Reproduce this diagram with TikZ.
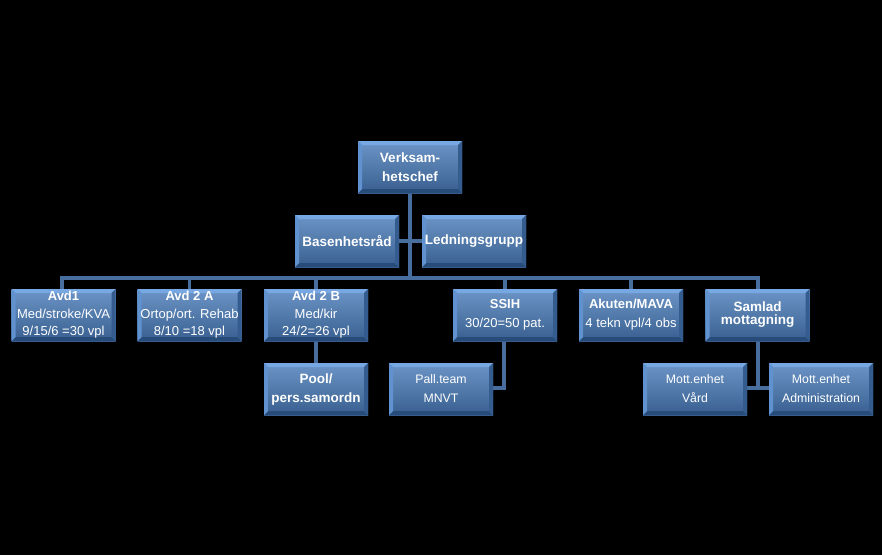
\documentclass[tikz,border=0pt]{standalone}
\usepackage{fontspec}
\setmainfont{Liberation Sans}
\usetikzlibrary{backgrounds}
\definecolor{boxmid}{RGB}{72,122,184}
\definecolor{boxtop}{RGB}{120,168,228}
\definecolor{boxbot}{RGB}{40,76,122}
\definecolor{boxleft}{RGB}{96,146,208}
\definecolor{boxright}{RGB}{52,92,142}
\definecolor{lincol}{RGB}{72,110,158}
\tikzset{
  orgbox/.style={minimum width=104pt, minimum height=52pt, inner sep=1pt,
    text=white, align=center, fill=boxmid,
    path picture={
      \path (path picture bounding box.north west) coordinate (pNW)
            (path picture bounding box.north east) coordinate (pNE)
            (path picture bounding box.south west) coordinate (pSW)
            (path picture bounding box.south east) coordinate (pSE);
      \fill[top color=boxmid!80!white, bottom color=boxmid!78!black] (pNW) rectangle (pSE);
      \fill[boxtop] (pNW) -- (pNE) -- ([shift={(-4pt,-4pt)}]pNE) -- ([shift={(4pt,-4pt)}]pNW) -- cycle;
      \fill[boxbot] (pSW) -- (pSE) -- ([shift={(-4pt,4pt)}]pSE) -- ([shift={(4pt,4pt)}]pSW) -- cycle;
      \fill[boxleft] (pNW) -- ([shift={(4pt,-4pt)}]pNW) -- ([shift={(4pt,4pt)}]pSW) -- (pSW) -- cycle;
      \fill[boxright] (pNE) -- ([shift={(-4pt,-4pt)}]pNE) -- ([shift={(-4pt,4pt)}]pSE) -- (pSE) -- cycle;
    }},
  titlefont/.style={font=\fontsize{13.5}{19}\selectfont\bfseries},
  bodyfont/.style={font=\fontsize{13}{17.5}\selectfont},
  smallfont/.style={font=\fontsize{12.3}{19}\selectfont},
  conn/.style={draw=lincol, line width=3.5pt}
}
\begin{document}
\begin{tikzpicture}[x=1pt,y=-1pt]
\begin{pgfonlayer}{background}
\fill[black] (0,0) rectangle (882,555);
\end{pgfonlayer}
\useasboundingbox (0,0) rectangle (882,555);

\coordinate (busL) at (62,278);
\coordinate (busR) at (758,278);

\node[orgbox, titlefont] (vc) at (410,167) {Verksam-\\hetschef};
\node[orgbox, titlefont] (bas) at (347,241) {Basenhetsråd};
\node[orgbox, titlefont] (led) at (474,241) {Ledningsgrupp};

\node[orgbox, bodyfont] (avd1) at (63.5,315) {\textbf{Avd1}\\Med/stroke/KVA\\9/15/6 =30 vpl};
\node[orgbox, bodyfont] (avd2a) at (189.5,315) {\textbf{Avd 2 A}\\Ortop/ort. Rehab\\8/10 =18 vpl};
\node[orgbox, bodyfont] (avd2b) at (316,315) {\textbf{Avd 2 B}\\Med/kir\\24/2=26 vpl};
\node[orgbox, bodyfont, font=\fontsize{13}{19}\selectfont] (ssih) at (505,315) {\textbf{SSIH}\\30/20=50 pat.};
\node[orgbox, bodyfont, font=\fontsize{13}{19}\selectfont] (akut) at (631,315) {\textbf{Akuten/MAVA}\\4 tekn vpl/4 obs};
\node[orgbox, font=\fontsize{13.5}{14.5}\selectfont\bfseries] (saml) at (757.5,315)
  {\raisebox{3pt}{\begin{tabular}{@{}c@{}}Samlad\\[-1pt]mottagning\end{tabular}}};

\node[orgbox, titlefont] (pool) at (316,389) {Pool/\\pers.samordn};
\node[orgbox, smallfont] (pall) at (441,389) {Pall.team\\MNVT};
\node[orgbox, smallfont] (mvard) at (695,389) {Mott.enhet\\Vård};
\node[orgbox, smallfont] (madm) at (821,389) {Mott.enhet\\Administration};

\coordinate (ssihdrop) at (504,388);
\coordinate (samldrop) at (758,388);

\begin{pgfonlayer}{background}
\draw[conn] (vc.south) -- (vc.south |- busL);
\draw[conn] (bas.east) -- (led.west);
\draw[conn, line cap=rect] (busL) -- (busR);
\draw[conn] (busL) -- (avd1.north -| busL);
\draw[conn] (avd2a.north) -- (avd2a.north |- busL);
\draw[conn] (avd2b.north) -- (avd2b.north |- busL);
\draw[conn] (ssih.north) -- (ssih.north |- busL);
\draw[conn] (akut.north) -- (akut.north |- busL);
\draw[conn] (busR) -- (saml.north -| busR);
\draw[conn] (avd2b.south) -- (pool.north);
\draw[conn] (ssih.south -| ssihdrop) -- (ssihdrop) -- (pall.east |- ssihdrop);
\draw[conn] (saml.south -| samldrop) -- (samldrop);
\draw[conn] (mvard.east |- samldrop) -- (madm.west |- samldrop);
\end{pgfonlayer}
\end{tikzpicture}
\end{document}
